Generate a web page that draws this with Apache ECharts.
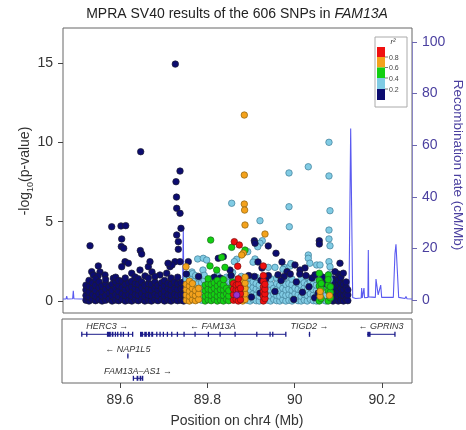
<!DOCTYPE html>
<html><head><meta charset="utf-8">
<script src="https://cdn.jsdelivr.net/npm/echarts@6/dist/echarts.min.js"></script>
<style>html,body{margin:0;padding:0;background:#fff;}#c{width:466px;height:430px;}</style>
</head><body><div id="c"></div>
<script>
// ---------- DATA ----------
const xTicks = [89.6, 89.8, 90.0, 90.2];
const yTicksLeft = [0, 5, 10, 15];
const yTicksRight = [0, 20, 40, 60, 80, 100];
const r2Breaks = ['0.8', '0.6', '0.4', '0.2'];

// recombination rate (Mb, cM/Mb)
const recombRate = [[89.4694,0.4],[89.4765,0.4],[89.4779,1.5],[89.4792,0.4],[89.4915,0.5],[89.4930,3.6],[89.4944,0.5],[89.5100,0.4],[89.5600,0.6],[89.6200,0.8],[89.6800,0.6],[89.7430,1.0],[89.7450,27.0],[89.7465,1.2],[89.8000,0.8],[89.8600,1.0],[89.9200,0.7],[89.9800,0.9],[90.0400,0.8],[90.1000,0.9],[90.1246,1.0],[90.1285,66.5],[90.1331,1.0],[90.1400,0.6],[90.1525,0.8],[90.1537,4.6],[90.1550,0.8],[90.1580,0.9],[90.1590,4.6],[90.1602,0.9],[90.1680,1.0],[90.1689,19.4],[90.1698,1.2],[90.1850,1.0],[90.1865,8.1],[90.1915,2.0],[90.1973,5.8],[90.1995,1.0],[90.2262,1.0],[90.2300,18.0],[90.2323,21.6],[90.2345,21.0],[90.2385,1.0],[90.2530,0.6],[90.2552,1.4],[90.2575,0.5],[90.2690,0.4]];

// SNPs: sparse points [Mb, -log10 p]
const navyUpper = [[89.7267,14.93],[89.6474,9.41],[89.7375,8.19],[89.7283,7.52],[89.7294,6.55],[89.7299,5.84],[89.7375,5.53],[89.7397,4.58],[89.7299,4.16],[89.7336,3.74],[89.7336,3.26],
[89.5313,3.48],[89.5810,4.68],[89.6023,4.73],[89.6131,4.75],[89.6039,3.91],[89.6030,3.43],[89.6085,3.32],[89.6465,3.18],[89.6497,2.96],
[89.5351,1.85],[89.5389,1.64],[89.5542,1.83],[89.5496,1.58],[89.5656,1.64],[89.5503,2.21],[89.5847,1.43],[89.6115,2.48],[89.6191,2.38],[89.6039,2.16],[89.6268,1.75],[89.6458,1.95],[89.6649,2.16],[89.6687,2.48],[89.6733,1.83],[89.6916,1.64],[89.7070,1.75],[89.7145,2.16],[89.7260,2.48],[89.7191,2.27],[89.7375,2.48],[89.7565,2.48],[89.7100,2.38],[89.6573,1.58],[89.6344,1.51]];
const navyMixed = [[89.8252,2.69],[89.8367,2.79],[89.9077,3.80],[89.9093,3.64],[89.9397,3.47],[89.9574,3.01],[90.0566,3.80],[90.0566,3.59],[90.1040,2.38],[90.0926,1.85],[90.1116,1.75],[90.0238,2.08],[90.0124,1.95],[89.9162,2.46],[89.9711,2.46],[90.0009,2.27],[89.8520,1.95],[89.9253,2.08],[89.9826,1.85],
[89.7520,1.70],[89.7800,1.55],[89.8160,1.50],[89.8300,1.45],[89.8545,1.60],
[89.8950,1.60],[89.9080,1.55],[89.9230,1.30],[89.9400,1.60],[89.9620,1.65],[89.9760,1.55],[89.9900,1.70],[90.0040,1.20],[90.0120,1.70],[90.0260,1.60],[90.0400,1.45],[90.0470,1.65],[90.0650,1.50],[90.0700,1.10],[89.9210,0.50],[89.9550,0.60],[89.9980,0.10],[90.0180,0.55],[90.0460,0.20],[89.9340,1.40],[89.9010,0.25],[89.9690,1.30],[90.0330,0.90],[90.0540,0.50]];
const lightUpper = [[90.0788,10.0],[90.0314,8.46],[89.9872,8.07],[90.0788,7.88],[89.8559,6.16],[89.9872,5.94],[90.0811,5.69],[89.9207,5.06],[89.9879,4.68],[90.0788,4.47],[90.0788,3.91],[90.0811,3.48],[89.9260,3.80],[89.9207,3.64],[89.9155,3.42],[89.8926,3.11],[90.0314,2.90],[90.0314,2.69],[90.0350,2.38],[90.0506,2.27],[90.0582,2.27],[90.0788,2.48],[90.0811,2.16],[89.7780,2.65],[89.7908,2.69],[89.7986,2.58],[89.8674,2.63],[89.8619,2.48],[89.9093,2.65],[89.9048,2.45],[89.9397,2.12],[89.9551,2.12],[89.9764,2.12],[89.9895,2.20],[89.9734,2.00],[89.9917,2.36],[89.7649,1.83],[89.7901,1.95]];
const greenUpper = [[89.8078,3.84],[89.8559,3.38],[89.8864,3.21],[89.8330,2.75],[89.8062,2.21],[89.8215,1.95],[89.8405,2.12],[90.0566,1.75],[90.0772,1.64]];
const orangeUpper = [[89.8848,11.72],[89.8848,7.94],[89.8848,6.11],[89.8855,5.73],[89.8864,4.79],[89.9322,4.22],[89.8825,3.01],[89.8788,2.90],[89.7512,2.16]];
const redUpper = [[89.8619,3.74],[89.8733,3.53],[89.8697,2.19],[89.9283,2.21]];
const purplePts = [[89.8674,0.38]];

// SNPs: dense low cloud, grouped by position [Mb, [-log10 p ...]]
const navyCloud = [[89.522,[0.05,0.35,0.7,1.0]],[89.529,[0.0,0.25,0.55,0.9,1.3]],[89.537,[0.1,0.4,0.8,1.15]],[89.544,[0.02,0.3,0.65,1.0,1.4]],[89.552,[0.08,0.45,0.85,1.2]],[89.559,[0.0,0.3,0.6,0.95]],[89.567,[0.05,0.35,0.75,1.1,1.35]],[89.575,[0.12,0.5,0.9]],[89.582,[0.0,0.3,0.65,1.05]],[89.590,[0.06,0.4,0.8,1.2,1.5]],[89.597,[0.02,0.28,0.6,0.95,1.3]],[89.605,[0.1,0.45,0.85,1.25]],[89.612,[0.0,0.35,0.7,1.05,1.45]],[89.620,[0.05,0.4,0.8,1.15]],[89.627,[0.0,0.3,0.6,0.9,1.25]],[89.635,[0.08,0.42,0.78,1.1]],[89.642,[0.02,0.35,0.7,1.05,1.4]],[89.650,[0.1,0.45,0.85,1.2]],[89.657,[0.0,0.3,0.65,1.0]],[89.665,[0.05,0.38,0.75,1.1,1.45]],[89.672,[0.0,0.32,0.7,1.05]],[89.680,[0.08,0.42,0.8,1.2,1.55]],[89.687,[0.02,0.35,0.7,1.0]],[89.695,[0.1,0.45,0.82,1.15]],[89.702,[0.0,0.3,0.62,0.95,1.3]],[89.710,[0.06,0.4,0.78,1.12]],[89.717,[0.0,0.34,0.7,1.05,1.45]],[89.725,[0.08,0.42,0.8,1.2]],[89.732,[0.02,0.36,0.72,1.08,1.5]],[89.740,[0.05,0.4,0.78,1.15]],[89.746,[0.0,0.4,0.8,1.2]],
[90.088,[0.0,0.35,0.7,1.05,1.4]],[90.094,[0.08,0.42,0.8,1.2]],[90.100,[0.0,0.3,0.65,1.0,1.35,1.7]],[90.106,[0.05,0.4,0.78,1.15,1.5]],[90.112,[0.0,0.35,0.7,1.05]],[90.118,[0.1,0.45,0.85,1.2]],[90.122,[0.02,0.38,0.7]]];
const lightCloud = [[89.752,[1.38]],[89.759,[1.55]],[89.766,[1.42,1.72]],[89.773,[0.98,1.3,1.6]],[89.780,[1.12,1.45]],[89.787,[0.05,0.4,0.78,1.15,1.5]],[89.793,[1.3,1.62]],[89.809,[1.4]],[89.823,[1.62]],[89.844,[1.18,1.5]],[89.852,[0.08,0.45,0.82,1.2,1.55]],[89.858,[1.45,1.8]],[89.878,[1.2,1.55]],[89.891,[0.05,0.4,0.8,1.2]],[89.898,[0.0,0.35,0.7,1.05,1.45]],[89.905,[0.1,0.45,0.85,1.2]],[89.912,[0.02,0.38,0.75,1.1,1.5]],[89.919,[0.0,0.3,0.65,1.0]],[89.938,[0.05,0.4,0.78,1.15]],[89.945,[0.0,0.32,0.7,1.05,1.4]],[89.952,[0.1,0.45,0.8]],[89.959,[0.02,0.36,0.72,1.1,1.45]],[89.966,[0.0,0.3,0.66,1.0]],[89.973,[0.08,0.42,0.8,1.18]],[89.980,[0.0,0.35,0.7,1.05,1.5]],[89.987,[0.05,0.4,0.75,1.1]],[89.994,[0.0,0.32,0.68,1.02,1.38]],[90.001,[0.1,0.45,0.82]],[90.008,[0.02,0.38,0.74,1.1]],[90.015,[0.0,0.3,0.65,1.0,1.4]],[90.022,[0.06,0.42,0.8,1.15]],[90.029,[0.0,0.35,0.7,1.05,1.5]],[90.036,[0.1,0.45,0.85,1.2]],[90.043,[0.02,0.38,0.72,1.08]],[90.050,[0.0,0.3,0.65,1.0,1.35]],[90.059,[1.3,1.6]],[90.067,[0.05,0.4,0.78,1.12,1.45]],[90.072,[0.0,0.35,0.7,1.05]],[90.080,[1.35,1.7]]];
const greenCloud = [[89.795,[0.0,0.3,0.65,1.0]],[89.802,[0.08,0.4,0.75,1.1,1.4]],[89.809,[0.02,0.35,0.7,1.05]],[89.816,[0.1,0.42,0.8,1.15]],[89.823,[0.0,0.3,0.62,0.95,1.3]],[89.830,[0.06,0.38,0.72,1.08]],[89.837,[0.0,0.35,0.7,1.0,1.35]],[89.844,[0.1,0.45,0.8]],[89.849,[0.02,0.32,0.65]],[89.8575,[0.9,1.2]],[89.8745,[1.1]],[90.0565,[0.0,0.95,1.3]],[90.061,[0.15,0.75,1.1]],[90.077,[0.0,0.65,1.0,1.35]],[90.082,[0.2,0.55,0.9]]];
const orangeCloud = [[89.752,[0.05,0.38,0.72,1.05]],[89.759,[0.0,0.3,0.62,0.95,1.25]],[89.766,[0.08,0.42,0.78,1.1]],[89.773,[0.02,0.34,0.66]],[89.780,[0.1,0.45,0.8]],[89.881,[0.0,0.3,0.62,0.95,1.3]],[89.8865,[0.1,0.45,0.8,1.12,1.5]],[90.0585,[0.3,0.6]],[90.080,[0.35]]];
const redCloud = [[89.860,[0.05,0.4,0.75,1.1]],[89.866,[0.1,0.7,1.0]],[89.871,[0.0,0.35,0.7,1.05,1.4]],[89.876,[0.08,0.45,0.8]],[89.9285,[0.0,0.3,0.6,0.9,1.25,1.6]],[89.932,[0.15,0.45,0.75,1.05]]];

// genes
const geneNames = ['HERC3','FAM13A','TIGD2','GPRIN3','NAP1L5','FAM13A\u2013AS1'];
const geneStart = [89.5123, 89.6458, 90.0325, 90.1660, 89.6170, 89.6305];
const geneEnd = [89.6291, 89.9800, 90.0356, 90.2300, 89.6190, 89.6520];
const geneStrand = [1, -1, 1, -1, -1, 1];
const geneRow = [0, 0, 0, 0, 1, 2];
const geneExons = [
 [[89.5123,89.5126],[89.5237,89.5240],[89.5700,89.5790],[89.5810,89.5850],[89.5880,89.5910],[89.5935,89.5960],[89.6010,89.6030],[89.6070,89.6085],[89.6185,89.6200],[89.6288,89.6291]],
 [[89.6458,89.6530],[89.6555,89.6615],[89.6640,89.6690],[89.6715,89.6760],[89.6841,89.6844],[89.6916,89.6919],[89.6992,89.6995],[89.7084,89.7087],[89.7184,89.7187],[89.7313,89.7316],[89.7466,89.7469],[89.7718,89.7721],[89.8023,89.8026],[89.8291,89.8294],[89.8635,89.8638],[89.9132,89.9135],[89.9436,89.9439],[89.9498,89.9501],[89.9797,89.9800]],
 [[90.0330,90.0352]],
 [[90.1665,90.1740],[90.2297,90.2300]],
 [[89.6172,89.6188]],
 [[89.6305,89.6308],[89.6380,89.6420],[89.6450,89.6490],[89.6517,89.6520]]
];

// ---------- BUILD ----------
const expand = cols => { const out = []; cols.forEach(c => c[1].forEach(v => out.push([c[0], v]))); return out; };
const COL = {navy:'#0c0c70', light:'#80cbe4', green:'#12d012', orange:'#f4a21c', red:'#f01010', purple:'#9a32cd'};
const BORDER = {navy:'#1c1c30', light:'#3f7d96', green:'#1f6b1f', orange:'#8a6210', red:'#7a1010', purple:'#4a1060'};
const FONT = 'Liberation Sans, Arial, Helvetica, sans-serif';
const SYM = 6.5;
function sc(name, data, key){
  return {type:'scatter', name, xAxisIndex:0, yAxisIndex:0, data, symbol:'circle', symbolSize:SYM,
    itemStyle:{color:COL[key], borderColor:BORDER[key], borderWidth:0.7, opacity:1}, z:3, silent:true};
}
const ROW_LINE = [15.3, 37, 59.3];
const ROW_LABEL = [7.7, 30, 52];
const GENE_C = '#1c1c8a';

const chart = echarts.init(document.getElementById('c'), null, {renderer:'canvas'});
const dummyX = i => ({type:'value', gridIndex:i, min:0, max:1, show:false, axisLine:{onZero:false}});
const option = {
  animation:false,
  backgroundColor:'#fff',
  grid:[
    {left:63, top:28, width:349, height:285, show:true, borderColor:'#666', borderWidth:1, backgroundColor:'rgba(0,0,0,0)', outerBoundsMode:'none', containLabel:false},
    {left:63, top:63, width:349, height:238, outerBoundsMode:'none', containLabel:false},
    {left:63, top:42, width:349, height:258, outerBoundsMode:'none', containLabel:false},
    {left:62, top:319, width:350, height:64, show:true, borderColor:'#666', borderWidth:1, outerBoundsMode:'none', containLabel:false},
    {left:120, top:319, width:262, height:64, outerBoundsMode:'none', containLabel:false}
  ],
  xAxis:[
    {type:'value', gridIndex:0, min:89.4694, max:90.2690, show:false, axisLine:{onZero:false}},
    dummyX(1), dummyX(2),
    {type:'value', gridIndex:3, min:89.4671, max:90.2689, show:false, axisLine:{onZero:false}},
    {type:'value', gridIndex:4, min:xTicks[0], max:xTicks[xTicks.length-1], interval:0.2, position:'bottom',
      axisLine:{show:false, onZero:false}, splitLine:{show:false},
      axisTick:{show:true, inside:false, length:5, lineStyle:{color:'#444', width:1}},
      axisLabel:{show:true, margin:10, fontSize:14, color:'#333', fontFamily:FONT,
        formatter: v => { const t = xTicks.find(x => Math.abs(x - v) < 1e-6); return t === undefined ? '' : String(t); }}}
  ],
  yAxis:[
    {type:'value', gridIndex:0, min:-0.756, max:17.205, show:false, axisLine:{onZero:false}},
    {type:'value', gridIndex:0, min:-5.04, max:105.43, show:false, axisLine:{onZero:false}},
    {type:'value', gridIndex:1, position:'left', min:yTicksLeft[0], max:yTicksLeft[yTicksLeft.length-1], interval:5,
      axisLine:{show:false, onZero:false}, splitLine:{show:false},
      axisTick:{show:true, inside:false, length:5, lineStyle:{color:'#444'}},
      axisLabel:{margin:10, fontSize:14, color:'#333', fontFamily:FONT}},
    {type:'value', gridIndex:2, position:'right', min:yTicksRight[0], max:yTicksRight[yTicksRight.length-1], interval:20,
      axisLine:{show:true, onZero:false, lineStyle:{color:'#8a86c4', width:1}}, splitLine:{show:false},
      axisTick:{show:true, inside:false, length:5, lineStyle:{color:'#6b66b0'}},
      axisLabel:{margin:10, fontSize:14, color:'#4a3f9f', fontFamily:FONT}},
    {type:'value', gridIndex:3, min:0, max:64, inverse:true, show:false, axisLine:{onZero:false}},
    {type:'value', gridIndex:4, min:0, max:1, show:false, axisLine:{onZero:false}}
  ],
  series:[
    {type:'line', xAxisIndex:0, yAxisIndex:1, data:recombRate, symbol:'none', showSymbol:false, smooth:false,
      lineStyle:{color:'#5a5af0', width:1.1}, z:1, silent:true},
    sc('navy', navyUpper.concat(expand(navyCloud)), 'navy'),
    sc('light', lightUpper.concat(expand(lightCloud)), 'light'),
    sc('navy2', navyMixed, 'navy'),
    sc('green', greenUpper.concat(expand(greenCloud)), 'green'),
    sc('orange', orangeUpper.concat(expand(orangeCloud)), 'orange'),
    sc('red', redUpper.concat(expand(redCloud)), 'red'),
    sc('purple', purplePts, 'purple'),
    {type:'custom', xAxisIndex:3, yAxisIndex:4, silent:true, clip:false,
      data: geneNames.map((n, i) => [geneStart[i], geneRow[i]]),
      renderItem: (params, api) => {
        const i = params.dataIndex;
        const ry = ROW_LINE[geneRow[i]];
        const p1 = api.coord([geneStart[i], ry]);
        const p2 = api.coord([geneEnd[i], ry]);
        const ch = [{type:'line', shape:{x1:p1[0], y1:p1[1], x2:p2[0], y2:p2[1]}, style:{stroke:GENE_C, lineWidth:1}}];
        geneExons[i].forEach(e => {
          const a = api.coord([e[0], ry]); const b = api.coord([e[1], ry]);
          let w = b[0] - a[0]; let x = a[0];
          if (w < 1.3) { x = (a[0] + b[0]) / 2 - 0.65; w = 1.3; }
          ch.push({type:'rect', shape:{x:x, y:a[1] - 2.5, width:w, height:5}, style:{fill:GENE_C}});
        });
        const lp = api.coord([(geneStart[i] + geneEnd[i]) / 2, ROW_LABEL[geneRow[i]]]);
        const txt = geneStrand[i] > 0 ? geneNames[i] + ' \u2192' : '\u2190 ' + geneNames[i];
        ch.push({type:'text', x:lp[0], y:lp[1], style:{text:txt, fontSize:9, fontStyle:'italic', fontFamily:FONT, fill:'#333', align:'center', verticalAlign:'middle', textAlign:'center', textVerticalAlign:'middle'}});
        return {type:'group', children:ch};
      }}
  ],
  graphic:[
    {type:'text', x:237, y:14, style:{text:'{n|MPRA SV40 results of the 606 SNPs in }{i|FAM13A}', align:'center', verticalAlign:'middle', textAlign:'center', textVerticalAlign:'middle',
      rich:{n:{fontSize:14, fontFamily:FONT, fill:'#222', color:'#222'}, i:{fontSize:14, fontFamily:FONT, fontStyle:'italic', fill:'#222', color:'#222'}}}},
    {type:'text', x:25, y:171, rotation:Math.PI/2, style:{text:'{n|-log}{s|10}{n|(p-value)}', align:'center', verticalAlign:'middle', textAlign:'center', textVerticalAlign:'middle',
      rich:{n:{fontSize:14, fontFamily:FONT, color:'#333', fill:'#333', lineHeight:20}, s:{fontSize:9, fontFamily:FONT, color:'#333', fill:'#333', verticalAlign:'bottom', lineHeight:11}}}},
    {type:'text', x:458, y:165, rotation:-Math.PI/2, style:{text:'Recombination rate (cM/Mb)', fontSize:13.5, fontFamily:FONT, fill:'#4a3f9f', align:'center', verticalAlign:'middle', textAlign:'center', textVerticalAlign:'middle'}},
    {type:'text', x:237, y:421, style:{text:'Position on chr4 (Mb)', fontSize:14, fontFamily:FONT, fill:'#333', align:'center', verticalAlign:'middle', textAlign:'center', textVerticalAlign:'middle'}},
    // r2 legend
    {type:'rect', shape:{x:375, y:37, width:32, height:70}, style:{fill:'#fff', stroke:'#aaa', lineWidth:1}, z:100},
    {type:'text', x:393, y:42, z:101, style:{text:'r\u00b2', fontSize:7.5, fontStyle:'italic', fontFamily:FONT, fill:'#333', align:'center', verticalAlign:'middle', textAlign:'center', textVerticalAlign:'middle'}},
    {type:'rect', shape:{x:377, y:47, width:8, height:10}, style:{fill:COL.red}, z:101},
    {type:'rect', shape:{x:377, y:57, width:8, height:10.5}, style:{fill:COL.orange}, z:101},
    {type:'rect', shape:{x:377, y:67.5, width:8, height:10.5}, style:{fill:COL.green}, z:101},
    {type:'rect', shape:{x:377, y:78, width:8, height:11}, style:{fill:COL.light}, z:101},
    {type:'rect', shape:{x:377, y:89, width:8, height:11}, style:{fill:COL.navy}, z:101},
    ...[57, 67.5, 78, 89].map((yy, k) => ({type:'group', z:101, children:[
      {type:'line', shape:{x1:385, y1:yy, x2:388, y2:yy}, style:{stroke:'#555', lineWidth:0.8}, z:101},
      {type:'text', x:389, y:yy + 1, z:101, style:{text:r2Breaks[k], fontSize:7, fontFamily:FONT, fill:'#444', align:'left', verticalAlign:'middle', textAlign:'left', textVerticalAlign:'middle'}}
    ]}))
  ]
};
chart.setOption(option);
</script></body></html>
